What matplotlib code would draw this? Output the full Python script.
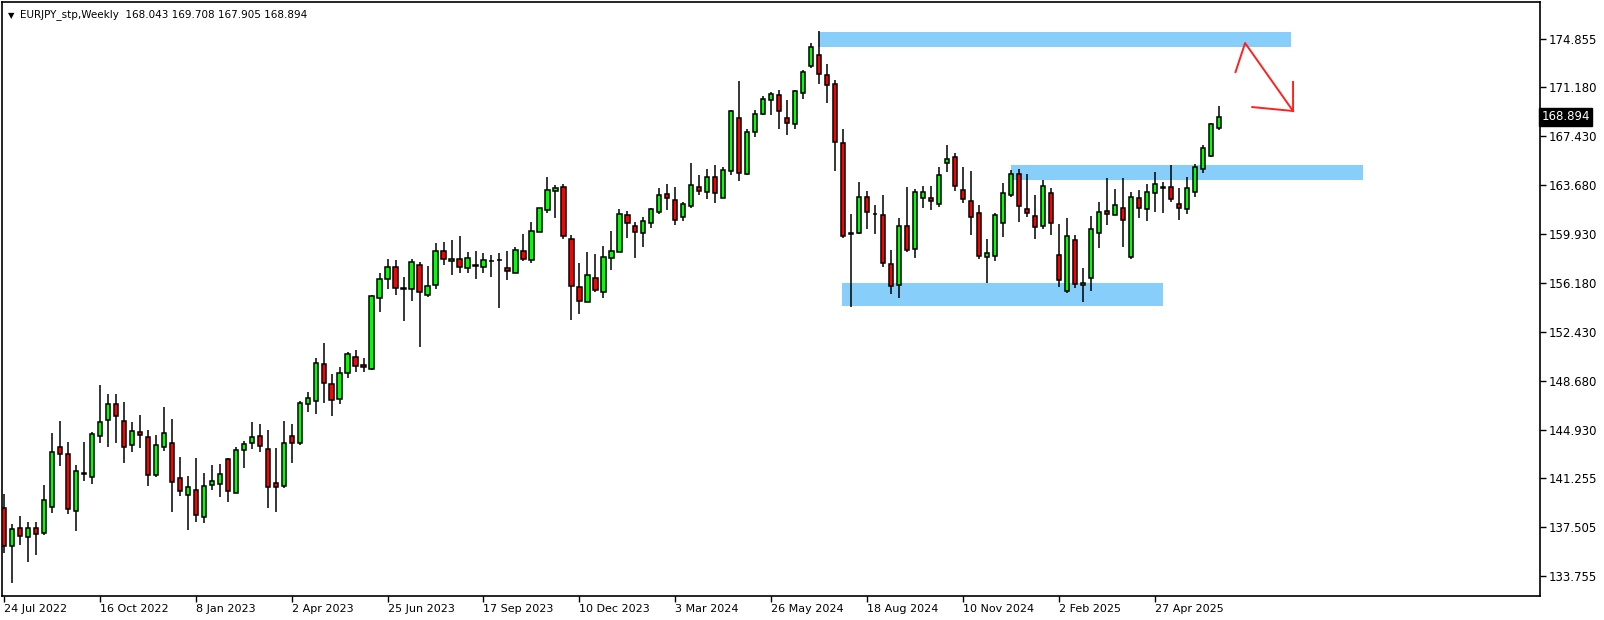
import matplotlib
matplotlib.use("Agg")
import matplotlib.pyplot as plt
from matplotlib.transforms import blended_transform_factory

# weekly EURJPY candles, 24 Jul 2022 .. 22 Jun 2025
opens = [138.94, 136.08, 137.41, 136.77, 137.41, 137.02, 139.01, 143.60, 143.07, 138.71,
         141.56, 141.31, 144.44, 145.67, 146.89, 145.59, 143.76, 144.75, 144.37, 141.46,
         143.61, 143.91, 141.23, 139.93, 140.31, 138.25, 140.70, 140.77, 142.69, 140.08,
         143.37, 143.91, 144.45, 143.45, 140.85, 140.62, 144.45, 143.91, 146.89, 147.12,
         149.95, 148.42, 147.30, 149.30, 150.49, 149.88, 149.62, 155.00, 156.46, 157.38,
         155.74, 155.69, 157.53, 155.23, 156.00, 158.60, 157.83, 157.99, 157.30, 157.48,
         157.38, 157.84, 157.91, 157.30, 156.91, 158.60, 157.91, 160.05, 161.74, 163.19,
         163.50, 159.52, 155.85, 154.70, 156.54, 155.46, 158.07, 158.53, 161.36, 160.51,
         159.98, 160.74, 161.59, 162.96, 162.50, 161.20, 162.04, 163.50, 163.12, 164.26,
         162.66, 164.72, 168.78, 164.49, 167.71, 169.08, 170.15, 170.54, 168.78, 168.32,
         170.69, 172.76, 173.60, 172.07, 171.38, 166.87, 159.95, 160.03, 162.73, 161.43,
         161.36, 157.61, 156.00, 160.51, 158.75, 162.66, 162.66, 162.20, 165.33, 165.79,
         163.27, 162.43, 161.51, 158.14, 158.22, 160.74, 162.89, 164.49, 161.81, 161.28,
         160.51, 163.04, 158.29, 155.54, 159.44, 156.00, 156.54, 159.98, 161.66, 161.36,
         161.89, 158.19, 162.66, 161.81, 163.04, 163.47, 163.50, 162.20, 161.81, 163.12,
         164.87, 165.87, 168.043]
highs = [140.03, 137.74, 138.35, 137.89, 137.89, 140.72, 144.70, 145.62, 144.01, 142.23,
         144.01, 144.78, 148.37, 147.68, 147.68, 147.07, 145.54, 146.08, 144.90, 144.55,
         146.69, 145.77, 142.84, 141.38, 142.76, 141.61, 142.23, 142.30, 142.79, 143.63,
         144.09, 145.54, 145.39, 144.93, 143.55, 145.62, 145.39, 147.12, 147.81, 150.46,
         151.56, 149.19, 149.75, 150.90, 151.05, 150.44, 155.23, 156.94, 158.01, 157.94,
         156.64, 158.01, 157.76, 157.45, 159.24, 159.31, 159.46, 159.77, 158.52, 158.62,
         158.47, 158.29, 158.45, 158.60, 158.90, 159.93, 160.82, 161.89, 164.29, 163.65,
         163.73, 159.83, 157.68, 158.53, 158.37, 158.98, 160.13, 161.82, 161.66, 160.82,
         161.20, 161.89, 163.42, 163.75, 163.55, 162.35, 165.36, 164.42, 164.87, 165.18,
         165.03, 169.39, 171.63, 167.94, 169.39, 170.46, 170.77, 170.92, 170.16, 170.92,
         172.45, 174.52, 175.44, 172.91, 171.69, 167.94, 161.43, 163.88, 163.19, 162.12,
         162.91, 158.70, 161.13, 163.52, 163.35, 163.57, 163.57, 165.03, 166.71, 166.10,
         165.03, 164.72, 162.12, 159.52, 161.51, 163.83, 164.82, 164.90, 164.52, 162.89,
         164.04, 163.42, 160.67, 161.13, 159.83, 157.30, 161.28, 162.35, 164.19, 163.34,
         164.19, 163.12, 163.27, 163.73, 164.65, 163.88, 165.18, 163.42, 164.26, 165.26,
         166.71, 168.39, 169.708]
lows = [135.49, 133.25, 136.16, 134.86, 135.39, 136.90, 138.60, 142.20, 138.53, 137.23,
        141.05, 140.82, 143.96, 143.65, 143.96, 142.43, 143.27, 143.58, 140.67, 141.36,
        143.35, 138.68, 139.91, 137.30, 137.92, 137.84, 140.36, 139.83, 139.45, 140.08,
        142.05, 143.50, 143.27, 138.99, 138.68, 140.46, 142.43, 143.76, 146.33, 146.18,
        147.02, 146.02, 146.90, 148.90, 149.40, 149.40, 149.50, 153.98, 155.69, 155.29,
        153.30, 154.83, 151.30, 155.08, 155.74, 157.58, 156.81, 156.96, 156.96, 156.51,
        156.96, 156.66, 154.29, 156.43, 156.91, 157.84, 157.68, 160.05, 161.51, 161.18,
        159.57, 153.35, 153.78, 154.70, 155.50, 155.01, 157.15, 158.53, 159.65, 158.07,
        158.91, 160.36, 161.43, 161.76, 160.60, 160.90, 161.89, 162.89, 162.58, 162.27,
        162.66, 164.42, 163.96, 164.42, 167.32, 169.01, 169.06, 167.99, 167.48, 167.94,
        170.23, 172.60, 171.43, 169.98, 164.77, 159.65, 154.37, 159.95, 160.34, 159.95,
        157.43, 155.36, 155.06, 158.52, 158.07, 161.89, 161.79, 161.97, 164.64, 163.19,
        162.27, 159.83, 157.99, 156.15, 157.84, 159.67, 162.73, 160.87, 161.20, 159.52,
        160.29, 159.83, 155.85, 155.39, 155.77, 154.75, 155.54, 158.83, 160.64, 161.36,
        158.96, 158.04, 161.18, 160.95, 161.64, 161.56, 162.40, 161.02, 161.48, 162.78,
        164.57, 165.79, 167.905]
closes = [136.08, 137.33, 136.84, 137.41, 136.95, 139.55, 143.22, 143.07, 138.86, 141.77,
          141.60, 144.60, 145.52, 146.89, 145.97, 143.60, 144.83, 144.52, 141.46, 143.76,
          144.68, 140.93, 140.24, 140.54, 138.40, 140.62, 141.00, 141.54, 140.24, 143.37,
          143.83, 144.37, 143.68, 140.54, 140.54, 143.91, 143.91, 146.97, 147.35, 150.03,
          148.50, 147.20, 149.30, 150.75, 149.80, 149.72, 155.16, 156.46, 157.38, 155.77,
          155.74, 157.76, 155.46, 155.92, 158.60, 157.99, 157.99, 157.38, 158.06, 157.48,
          157.91, 157.84, 157.91, 157.07, 158.67, 157.99, 160.13, 161.89, 163.27, 163.42,
          159.75, 155.95, 154.78, 156.77, 155.62, 158.14, 158.60, 161.43, 160.74, 160.06,
          160.90, 161.82, 162.89, 162.66, 161.00, 162.20, 163.65, 163.19, 164.26, 163.04,
          164.80, 169.31, 164.57, 167.71, 169.08, 170.23, 170.61, 169.31, 168.40, 170.84,
          172.30, 174.21, 172.15, 171.30, 166.94, 159.80, 159.95, 162.73, 161.59, 161.43,
          157.68, 155.92, 160.51, 158.68, 163.12, 163.12, 162.43, 164.42, 165.64, 163.57,
          162.58, 161.20, 158.22, 158.44, 161.36, 163.04, 164.49, 162.04, 161.51, 160.44,
          163.58, 160.74, 156.38, 159.75, 156.08, 156.15, 160.29, 161.59, 161.43, 162.12,
          160.97, 162.73, 161.89, 163.12, 163.73, 163.47, 162.58, 161.89, 163.42, 165.03,
          166.48, 168.32, 168.894]

date_labels = ["24 Jul 2022", "16 Oct 2022", "8 Jan 2023", "2 Apr 2023", "25 Jun 2023",
               "17 Sep 2023", "10 Dec 2023", "3 Mar 2024", "26 May 2024", "18 Aug 2024",
               "10 Nov 2024", "2 Feb 2025", "27 Apr 2025"]
price_ticks = [174.855, 171.180, 167.430, 163.680, 159.930, 156.180,
               152.430, 148.680, 144.930, 141.255, 137.505, 133.755]

# supply / demand zones (bar index from, bar index to, price low, price high)
zone_start = [101.8, 126.0, 104.8]
zone_end = [161.0, 170.0, 145.0]
zone_low = [174.24, 164.08, 154.45]
zone_high = [175.41, 165.21, 156.18]

# hand drawn arrow (bar index, price)
arrow_x = [154.1, 155.3, 161.3]
arrow_y = [172.32, 174.54, 169.34]
head_x = [161.3, 161.3, None, 161.3, 156.2]
head_y = [171.56, 169.34, None, 169.34, 169.64]

fig = plt.figure(figsize=(16.04, 6.2), dpi=100)
ax = fig.add_axes([2 / 1604, 1 - 596 / 620, 1538 / 1604, 594 / 620])

for s, e, lo, hi in zip(zone_start, zone_end, zone_low, zone_high):
    ax.fill_between([s, e], lo, hi, color="#87cefa", lw=0, zorder=0)

idx = list(range(len(opens)))
ax.vlines(idx, lows, highs, color="black", lw=1.1, zorder=1)
bottoms, heights, colors = [], [], []
for o, c in zip(opens, closes):
    bottoms.append(min(o, c))
    heights.append(max(abs(c - o), 0.06))
    colors.append("#00ff00" if c >= o else "#ff0000")
ax.bar(idx, heights, bottom=bottoms, width=0.54, color=colors,
       edgecolor="black", linewidth=1.1, zorder=2)

ax.plot(arrow_x, arrow_y, color="#ff2020", lw=1.4, zorder=3)
ax.plot([v if v is not None else float("nan") for v in head_x],
        [v if v is not None else float("nan") for v in head_y],
        color="#ff2020", lw=1.4, zorder=3)

ax.set_xlim(-0.25, 192.2)
ax.set_ylim(132.23, 177.68)

ax.yaxis.tick_right()
ax.set_yticks(price_ticks)
ax.set_yticklabels([f"{p:.3f}" for p in price_ticks])
ax.set_xticks(list(range(0, 12 * len(date_labels), 12)))
ax.set_xticklabels(date_labels)
for lab in ax.get_xticklabels():
    lab.set_horizontalalignment("left")
ax.tick_params(axis="both", direction="out", length=4, width=1, labelsize=8,
               colors="black", pad=2)
ax.tick_params(axis="y", labelsize=8.5)
for sp in ax.spines.values():
    sp.set_linewidth(1.2)

tr = blended_transform_factory(ax.transAxes, ax.transData)
ax.text(1.0008, closes[-1], f"{closes[-1]:.3f}", transform=tr, ha="left", va="center",
        fontsize=8.5, color="white",
        bbox=dict(boxstyle="square,pad=0.2", fc="black", ec="black"))

ax.text(0.004, 0.985, "\u25bc", transform=ax.transAxes, fontsize=6, va="top", ha="left")
ax.text(0.012, 0.988,
        f"EURJPY_stp,Weekly  {opens[-1]:.3f} {highs[-1]:.3f} {lows[-1]:.3f} {closes[-1]:.3f}",
        transform=ax.transAxes, fontsize=7.5, va="top", ha="left")

fig.savefig("out.png", dpi=100, facecolor="white")
